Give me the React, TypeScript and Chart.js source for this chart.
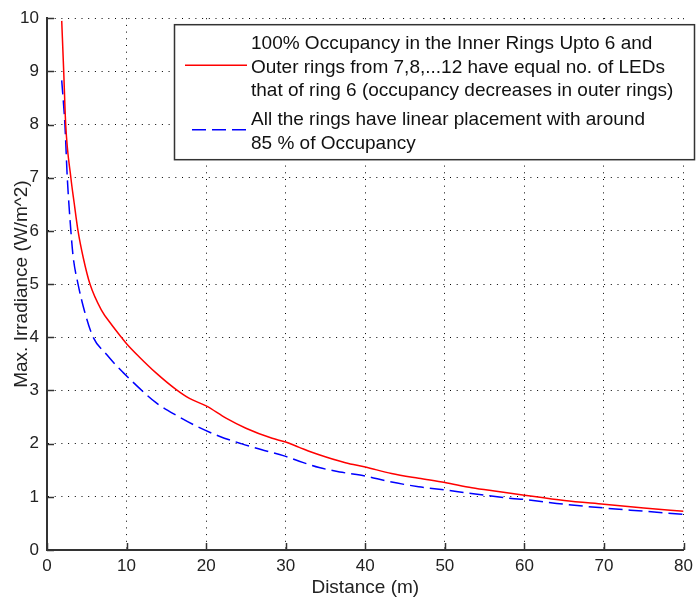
import React, { useEffect, useRef } from "react";
import { Chart, registerables } from "chart.js";

Chart.register(...registerables);

// Red series: 100% occupancy inner rings
const redDistance = [1.85, 2.1, 2.35, 3.0, 3.42, 3.9, 4.55, 5.4, 6.84, 8.1, 9.35, 10, 11.6, 13.7, 16.2, 17.9, 20, 22.5, 25, 28.3, 30, 31.7, 34.2, 37.5, 40, 43.3, 46.7, 50, 53.4, 56.7, 60, 65, 70, 75, 80];
const redIrradiance = [9.95, 9.0, 8.0, 7.0, 6.52, 6.0, 5.5, 5.0, 4.51, 4.24, 4.0, 3.88, 3.63, 3.33, 3.02, 2.85, 2.71, 2.48, 2.29, 2.1, 2.03, 1.93, 1.79, 1.64, 1.56, 1.44, 1.35, 1.27, 1.17, 1.1, 1.03, 0.93, 0.86, 0.79, 0.73];

// Blue series: linear placement ~85% occupancy
const blueDistance = [1.85, 2.25, 2.55, 3.0, 3.3, 3.9, 4.7, 5.8, 7.47, 8.64, 9.55, 11.2, 13.7, 16.4, 18.9, 21.65, 24.4, 26.9, 29.8, 31.7, 34.2, 37.1, 40, 42.9, 46.7, 50, 52.5, 55, 58.4, 60, 65, 70, 75, 80];
const blueIrradiance = [8.83, 8.0, 7.0, 6.0, 5.5, 5.0, 4.5, 4.0, 3.68, 3.48, 3.34, 3.1, 2.77, 2.52, 2.32, 2.14, 2.0, 1.89, 1.77, 1.67, 1.55, 1.46, 1.39, 1.29, 1.19, 1.13, 1.08, 1.03, 0.97, 0.95, 0.86, 0.79, 0.73, 0.67];

const redLegendLines = [
  "100% Occupancy in the Inner Rings Upto 6 and",
  "Outer rings from 7,8,...12 have equal no. of LEDs",
  "that of ring 6 (occupancy decreases in outer rings)",
];
const blueLegendLines = [
  "All the rings have linear placement with around",
  "85 % of Occupancy",
];

const xTitle = "Distance (m)";
const yTitle = "Max. Irradiance (W/m^2)";

const FONT = "'Liberation Sans', Arial, sans-serif";
const RED = "#ff0000";
const BLUE = "#0000ff";
const BLUE_DASH = [14, 6];

const inwardTicksAndLegend = {
  id: "inwardTicksAndLegend",
  afterDraw(chart: any) {
    const ctx = chart.ctx;
    const area = chart.chartArea;
    const xs = chart.scales.x;
    const ys = chart.scales.y;
    ctx.save();
    ctx.strokeStyle = "#333";
    ctx.lineWidth = 1.5;
    ctx.setLineDash([]);
    xs.ticks.forEach((t: any) => {
      const px = Math.round(xs.getPixelForValue(t.value)) + 0.5;
      ctx.beginPath();
      ctx.moveTo(px, area.bottom);
      ctx.lineTo(px, area.bottom - 7);
      ctx.stroke();
    });
    ys.ticks.forEach((t: any) => {
      const py = Math.round(ys.getPixelForValue(t.value)) + 0.5;
      ctx.beginPath();
      ctx.moveTo(area.left, py);
      ctx.lineTo(area.left + 7, py);
      ctx.stroke();
    });

    // Legend box
    const bx = area.left + 127;
    const by = area.top + 6;
    const bw = 520;
    const bh = 135;
    ctx.fillStyle = "#ffffff";
    ctx.fillRect(bx, by, bw, bh);
    ctx.strokeStyle = "#333";
    ctx.lineWidth = 1.5;
    ctx.strokeRect(bx + 0.5, by + 0.5, bw, bh);

    ctx.font = `19px ${FONT}`;
    ctx.fillStyle = "#111";
    ctx.textBaseline = "alphabetic";
    ctx.textAlign = "left";
    const textX = bx + 77;
    const redBase = [by + 25, by + 48.5, by + 72];
    redLegendLines.forEach((s, i) => ctx.fillText(s, textX, redBase[i]));
    const blueBase = [by + 101, by + 124.5];
    blueLegendLines.forEach((s, i) => ctx.fillText(s, textX, blueBase[i]));

    ctx.lineWidth = 1.5;
    ctx.strokeStyle = RED;
    ctx.beginPath();
    ctx.moveTo(bx + 11, by + 41);
    ctx.lineTo(bx + 73, by + 41);
    ctx.stroke();

    ctx.strokeStyle = BLUE;
    ctx.setLineDash(BLUE_DASH);
    ctx.beginPath();
    ctx.moveTo(bx + 18, by + 105.5);
    ctx.lineTo(bx + 73, by + 105.5);
    ctx.stroke();
    ctx.restore();
  },
};

export default function App() {
  const canvasRef = useRef<HTMLCanvasElement | null>(null);

  useEffect(() => {
    document.body.style.margin = "0";
    const canvas = canvasRef.current;
    if (!canvas) return;
    const chart = new Chart(canvas, {
      type: "line",
      data: {
        datasets: [
          {
            label: redLegendLines.join(" "),
            data: redDistance.map((x, i) => ({ x, y: redIrradiance[i] })),
            borderColor: RED,
            borderWidth: 1.5,
            pointRadius: 0,
            fill: false,
            cubicInterpolationMode: "monotone",
          },
          {
            label: blueLegendLines.join(" "),
            data: blueDistance.map((x, i) => ({ x, y: blueIrradiance[i] })),
            borderColor: BLUE,
            borderWidth: 1.5,
            borderDash: BLUE_DASH,
            pointRadius: 0,
            fill: false,
            cubicInterpolationMode: "monotone",
          },
        ],
      },
      options: {
        responsive: false,
        animation: false,
        layout: { padding: { top: 18, right: 13, left: 0, bottom: 0 } },
        plugins: {
          legend: { display: false },
          tooltip: { enabled: false },
        },
        scales: {
          x: {
            type: "linear",
            min: 0,
            max: 80,
            ticks: {
              stepSize: 10,
              padding: 6,
              color: "#222",
              font: { family: FONT, size: 17 },
            },
            grid: {
              color: "#000",
              lineWidth: 1,
              drawTicks: false,
            },
            border: { display: true, color: "#333", width: 2, dash: [1, 5.7] },
            title: {
              display: true,
              text: xTitle,
              color: "#222",
              font: { family: FONT, size: 19 },
              padding: { top: 0, bottom: 5 },
            },
            afterFit: (scale: any) => {
              scale.height = 54;
            },
          },
          y: {
            type: "linear",
            min: 0,
            max: 10,
            ticks: {
              stepSize: 1,
              padding: 8,
              color: "#222",
              font: { family: FONT, size: 17 },
            },
            grid: {
              color: "#000",
              lineWidth: 1,
              drawTicks: false,
            },
            border: { display: true, color: "#333", width: 2, dash: [1, 5.7] },
            title: {
              display: true,
              text: yTitle,
              color: "#222",
              font: { family: FONT, size: 19 },
              padding: { top: 10, bottom: 0 },
            },
            afterFit: (scale: any) => {
              scale.width = 47;
            },
          },
        },
      },
      plugins: [inwardTicksAndLegend],
    });
    return () => chart.destroy();
  }, []);

  return (
    <div style={{ width: 699, height: 604 }}>
      <canvas ref={canvasRef} width={699} height={604} />
    </div>
  );
}
